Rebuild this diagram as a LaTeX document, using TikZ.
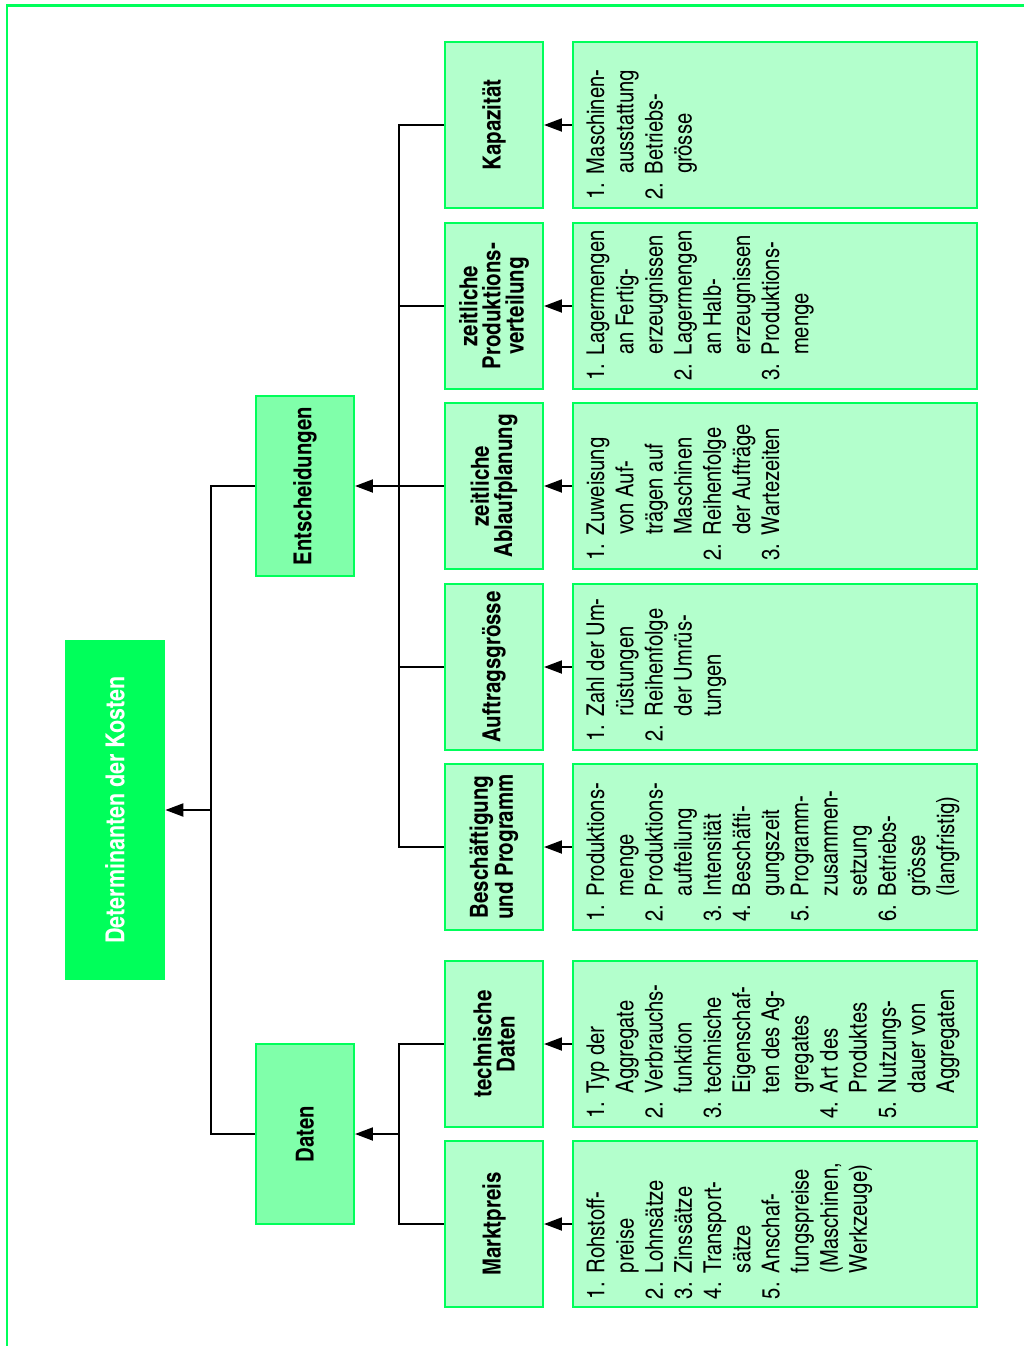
\documentclass[tikz,border=0pt]{standalone}
\usepackage{fontspec}
\setmainfont{texgyreheroscn}[Extension=.otf, UprightFont=*-regular, BoldFont=*-bold]
\usetikzlibrary{arrows.meta}
\definecolor{kgreen}{HTML}{00FF5A}
\definecolor{kmid}{HTML}{80FFAA}
\definecolor{klight}{HTML}{B3FFCC}

\newlength{\kindent}
\setlength{\kindent}{0.52cm}
\newcommand{\kitem}[2]{\par\hangindent=\kindent\hangafter=1\noindent\makebox[\kindent][l]{#1}#2\par}
\newcommand{\klist}[1]{\parbox[c][7.54cm][t]{3.0cm}{\fontsize{14}{16.6}\selectfont\raggedright\hyphenpenalty=10000\parindent=0pt #1}}

\begin{document}
\begin{tikzpicture}[
    x=0.02cm, y=-0.02cm,
    >={Triangle[length=0.36cm, width=0.26cm]},
    link/.style={draw, line width=0.04cm},
    rootbox/.style={fill=kgreen, text=white, font={\bfseries\fontsize{14.9}{14}\selectfont}, rotate=90, minimum width=6.8cm, minimum height=2cm, inner sep=0pt},
    groupbox/.style={draw=kgreen, line width=0.04cm, fill=kmid, font={\bfseries\fontsize{14.1}{13.5}\selectfont}, rotate=90, minimum width=3.6cm, minimum height=1.96cm, inner sep=0pt},
    catbox/.style={draw=kgreen, line width=0.04cm, fill=klight, font={\bfseries\fontsize{14.2}{13.2}\selectfont}, rotate=90, align=center, minimum width=3.32cm, minimum height=1.96cm, inner sep=0pt},
    listbox/.style={draw=kgreen, line width=0.04cm, fill=klight, rotate=90, inner xsep=0.16cm, inner ysep=0.28cm},
  ]
  \useasboundingbox (0,0) rectangle (1024,1346);
  \draw[kgreen, line width=0.06cm] (1024,5) -- (7,5) -- (7,1346);

  % Wurzel
  \node[rootbox] (root) at (115,810) {Determinanten der Kosten};

  % Gruppen
  \node[groupbox] (ent) at (305,486) {Entscheidungen};
  \node[groupbox] (dat) at (305,1134) {Daten};

  % Kategorien
  \node[catbox] (kap) at (494,125) {Kapazität};
  \node[catbox] (zpv) at (494,306) {zeitliche\\Produktions-\\verteilung};
  \node[catbox] (zap) at (494,486) {zeitliche\\Ablaufplanung};
  \node[catbox] (auf) at (494,667) {Auftragsgrösse};
  \node[catbox] (bes) at (494,847) {Beschäftigung\\und Programm};
  \node[catbox] (tec) at (494,1044) {technische\\Daten};
  \node[catbox] (mkt) at (494,1224) {Marktpreis};

  % Listen
  \node[listbox] (kapL) at (775,125) {\klist{%
    \kitem{1.}{Maschinen-\newline ausstattung}
    \kitem{2.}{Betriebs-\newline grösse}}};
  \node[listbox] (zpvL) at (775,306) {\klist{%
    \kitem{1.}{Lagermengen\newline an Fertig-\newline erzeugnissen}
    \kitem{2.}{Lagermengen\newline an Halb-\newline erzeugnissen}
    \kitem{3.}{Produktions-\newline menge}}};
  \node[listbox] (zapL) at (775,486) {\klist{%
    \kitem{1.}{Zuweisung\newline von Auf-\newline trägen auf\newline Maschinen}
    \kitem{2.}{Reihenfolge\newline der Aufträge}
    \kitem{3.}{Wartezeiten}}};
  \node[listbox] (aufL) at (775,667) {\klist{%
    \kitem{1.}{Zahl der Um-\newline rüstungen}
    \kitem{2.}{Reihenfolge\newline der Umrüs-\newline tungen}}};
  \node[listbox] (besL) at (775,847) {\klist{%
    \kitem{1.}{Produktions-\newline menge}
    \kitem{2.}{Produktions-\newline aufteilung}
    \kitem{3.}{Intensität}
    \kitem{4.}{Beschäfti-\newline gungszeit}
    \kitem{5.}{Programm-\newline zusammen-\newline setzung}
    \kitem{6.}{Betriebs-\newline grösse\newline (langfristig)}}};
  \node[listbox] (tecL) at (775,1044) {\klist{%
    \kitem{1.}{Typ der\newline Aggregate}
    \kitem{2.}{Verbrauchs-\newline funktion}
    \kitem{3.}{technische\newline Eigenschaf-\newline ten des Ag-\newline gregates}
    \kitem{4.}{Art des\newline Produktes}
    \kitem{5.}{Nutzungs-\newline dauer von\newline Aggregaten}}};
  \node[listbox] (mktL) at (775,1224) {\klist{%
    \kitem{1.}{Rohstoff-\newline preise}
    \kitem{2.}{Lohnsätze}
    \kitem{3.}{Zinssätze}
    \kitem{4.}{Transport-\newline sätze}
    \kitem{5.}{Anschaf-\newline fungspreise\newline (Maschinen,\newline Werkzeuge)}}};

  % Listen -> Kategorien
  \foreach \n in {kap,zpv,zap,auf,bes,tec,mkt}
    \draw[link,->] (\n L) -- (\n);

  % Kategorien -> Gruppen
  \coordinate (busE) at (399,486);
  \coordinate (busD) at (399,1134);
  \foreach \n in {kap,zpv,zap,auf,bes}
    \draw[link] (\n.north) -| (busE);
  \foreach \n in {tec,mkt}
    \draw[link] (\n.north) -| (busD);
  \draw[link,->] (busE) -- (ent);
  \draw[link,->] (busD) -- (dat);

  % Gruppen -> Wurzel
  \coordinate (busR) at (211,810);
  \draw[link] (ent.north) -| (busR);
  \draw[link] (dat.north) -| (busR);
  \draw[link,->] (busR) -- (root);
\end{tikzpicture}
\end{document}
